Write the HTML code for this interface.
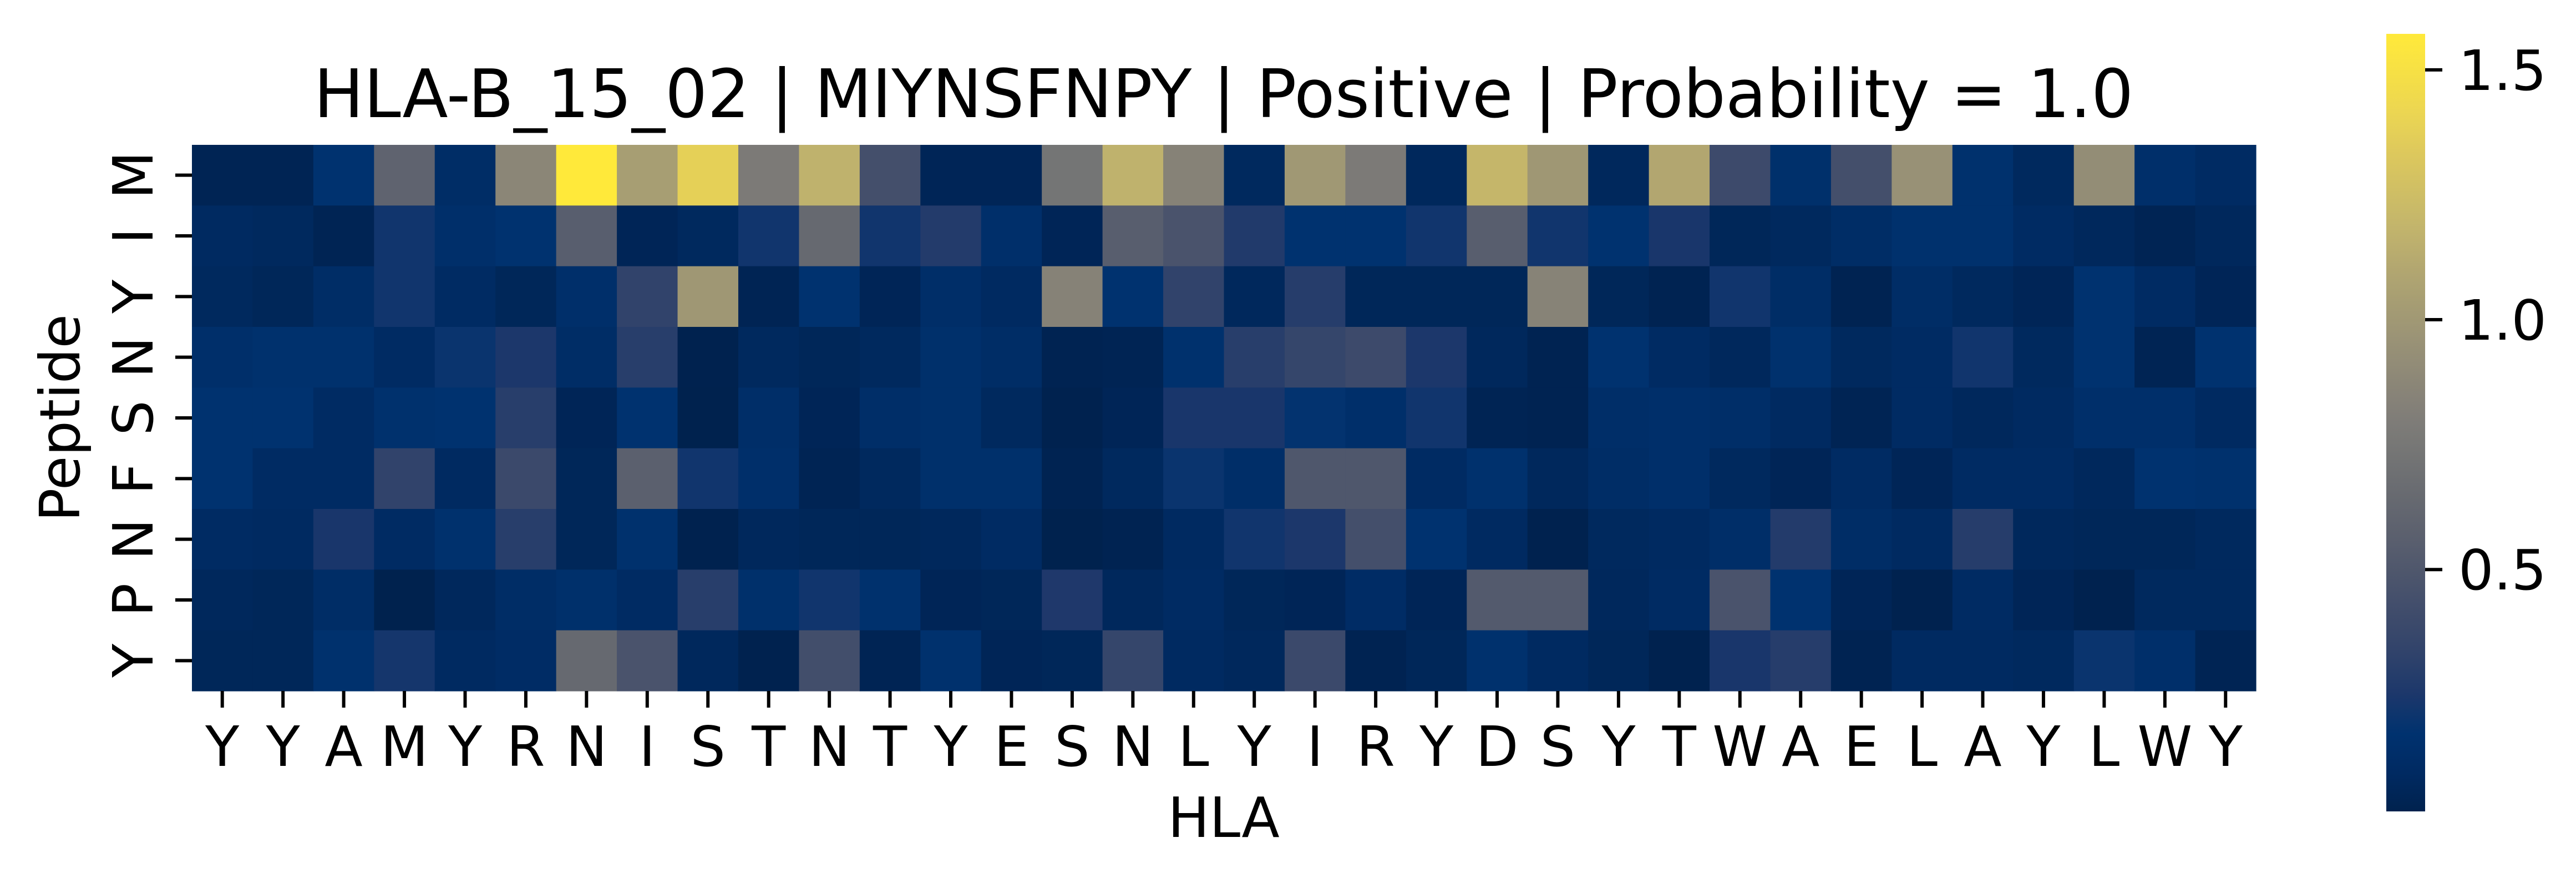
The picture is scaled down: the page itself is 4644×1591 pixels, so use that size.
<!DOCTYPE html>
<html><head><meta charset="utf-8"><style>
html,body{margin:0;padding:0;background:#fff;}
svg{display:block;}
text{font-family:"DejaVu Sans","Liberation Sans",sans-serif;fill:#000;}
</style></head><body>
<svg id="chart" width="4644" height="1591" viewBox="0 0 4644 1591" xmlns="http://www.w3.org/2000/svg">
<text x="2206" y="211" font-size="120" text-anchor="middle">HLA-B_15_02 | MIYNSFNPY | Positive | Probability = 1.0</text>
<g id="cells"></g>
<g id="axes"></g>
<defs><linearGradient id="cbgrad" x1="0" y1="1" x2="0" y2="0"></linearGradient></defs>
<rect x="4302" y="61" width="70" height="1401" fill="url(#cbgrad)"/>
<g id="cbaxis"></g>
<text x="2206" y="1508" font-size="100" text-anchor="middle">HLA</text>
<text x="0" y="0" font-size="100" text-anchor="middle" transform="translate(143,753) rotate(-90)">Peptide</text>
</svg>
<script>
const hlaLabels = ["Y","Y","A","M","Y","R","N","I","S","T","N","T","Y","E","S","N","L","Y","I","R","Y","D","S","Y","T","W","A","E","L","A","Y","L","W","Y"];
const peptideLabels = ["M","I","Y","N","S","F","N","P","Y"];
const rowM = [0.04,0.04,0.17,0.59,0.12,0.87,1.57,1.04,1.38,0.78,1.17,0.44,0.05,0.05,0.73,1.17,0.84,0.08,1.0,0.78,0.07,1.2,0.99,0.07,1.1,0.4,0.15,0.44,0.95,0.16,0.08,0.92,0.14,0.1];
const rowI = [0.09,0.08,0.04,0.22,0.14,0.17,0.55,0.05,0.08,0.22,0.64,0.22,0.28,0.14,0.05,0.55,0.47,0.27,0.17,0.17,0.22,0.55,0.22,0.17,0.24,0.06,0.08,0.12,0.16,0.16,0.1,0.07,0.04,0.07];
const rowY1 = [0.08,0.06,0.12,0.22,0.1,0.06,0.14,0.34,0.99,0.04,0.17,0.05,0.13,0.09,0.84,0.17,0.34,0.07,0.29,0.06,0.06,0.06,0.85,0.06,0.03,0.22,0.12,0.03,0.12,0.08,0.05,0.17,0.1,0.05];
const rowN1 = [0.14,0.16,0.16,0.1,0.2,0.25,0.12,0.3,0.02,0.08,0.06,0.08,0.15,0.12,0.03,0.04,0.16,0.3,0.36,0.4,0.25,0.07,0.03,0.17,0.1,0.07,0.16,0.08,0.1,0.22,0.08,0.17,0.04,0.17];
const rowS = [0.17,0.17,0.1,0.16,0.17,0.3,0.05,0.17,0.01,0.13,0.05,0.13,0.15,0.08,0.02,0.05,0.24,0.24,0.18,0.14,0.22,0.04,0.03,0.13,0.14,0.13,0.09,0.04,0.1,0.07,0.09,0.14,0.14,0.09];
const rowF = [0.17,0.1,0.1,0.34,0.09,0.39,0.06,0.57,0.22,0.14,0.04,0.08,0.15,0.15,0.03,0.08,0.2,0.13,0.5,0.5,0.1,0.16,0.07,0.12,0.14,0.08,0.05,0.1,0.05,0.1,0.1,0.07,0.17,0.16];
const rowN2 = [0.1,0.09,0.24,0.1,0.16,0.3,0.06,0.16,0.02,0.07,0.06,0.06,0.07,0.1,0.01,0.03,0.09,0.22,0.25,0.44,0.17,0.09,0.02,0.08,0.09,0.13,0.28,0.12,0.09,0.29,0.07,0.06,0.06,0.08];
const rowP = [0.07,0.06,0.12,0.01,0.07,0.12,0.15,0.1,0.3,0.15,0.22,0.16,0.05,0.06,0.26,0.07,0.1,0.06,0.05,0.11,0.05,0.52,0.52,0.07,0.1,0.47,0.17,0.05,0.02,0.1,0.05,0.02,0.08,0.08];
const rowY2 = [0.06,0.06,0.16,0.23,0.09,0.11,0.64,0.47,0.07,0.02,0.43,0.04,0.16,0.05,0.06,0.36,0.09,0.07,0.39,0.03,0.06,0.16,0.09,0.06,0.02,0.24,0.29,0.03,0.09,0.09,0.08,0.2,0.14,0.04];
const matrix = [rowM,rowI,rowY1,rowN1,rowS,rowF,rowN2,rowP,rowY2];
const cbTicks = [0.5,1.0,1.5];
const cbTickLabels = ["0.5","1.0","1.5"];
const vmin = 0.016, vmax = 1.572;

const NS = "http://www.w3.org/2000/svg";
const X0 = 346, X1 = 4067, Y0 = 261, Y1 = 1245;
const cw = (X1 - X0) / hlaLabels.length, ch = (Y1 - Y0) / peptideLabels.length;
function xPos(i){ return X0 + i * cw; }
function yPos(j){ return Y0 + j * ch; }
const CB0 = 61, CB1 = 1462;
function cbY(v){ return CB1 - (v - vmin) / (vmax - vmin) * (CB1 - CB0); }

const stops = [[0,"#00224e"],[0.05,"#002a62"],[0.1,"#00326f"],[0.15,"#1c376b"],[0.2,"#2f426b"],[0.25,"#3e4b6b"],[0.3,"#4c556c"],[0.35,"#5a5f6e"],[0.4,"#666970"],[0.45,"#727374"],[0.5,"#7e7c78"],[0.55,"#8b8677"],[0.6,"#989176"],[0.65,"#a59c73"],[0.7,"#b3a770"],[0.75,"#c2b46c"],[0.8,"#d0bf64"],[0.85,"#dec95c"],[0.9,"#ecd652"],[0.95,"#f6e045"],[1,"#ffe93a"]];
function hex(h){ return [1,3,5].map(k=>parseInt(h.substr(k,2),16)); }
function cividis(t){
  t = Math.max(0, Math.min(1, t));
  for (let k = 1; k < stops.length; k++){
    if (t <= stops[k][0]){
      const a = stops[k-1], b = stops[k], f = (t - a[0]) / (b[0] - a[0]);
      const ca = hex(a[1]), cb = hex(b[1]);
      return "rgb(" + ca.map((c,i)=>Math.round(c + (cb[i]-c)*f)).join(",") + ")";
    }
  }
  return stops[stops.length-1][1];
}
function mk(tag, attrs, parent){
  const el = document.createElementNS(NS, tag);
  for (const k in attrs) el.setAttribute(k, attrs[k]);
  parent.appendChild(el);
  return el;
}
const cells = document.getElementById("cells");
matrix.forEach((row, j) => {
  row.forEach((v, i) => {
    const r = mk("rect", {x: xPos(i), y: yPos(j), width: cw + 0.6, height: ch + 0.6, fill: cividis((v - vmin) / (vmax - vmin))}, cells);
    
    
  });
});
const axes = document.getElementById("axes");
hlaLabels.forEach((lab, i) => {
  const cx = xPos(i) + cw / 2;
  const t = mk("line", {x1: cx, x2: cx, y1: Y1, y2: Y1 + 30, stroke: "#000", "stroke-width": 6}, axes);
  
  
  const tx = mk("text", {x: cx, y: 1380, "font-size": 100, "text-anchor": "middle"}, axes);
  tx.textContent = lab;
  
  
});
peptideLabels.forEach((lab, j) => {
  const cy = yPos(j) + ch / 2;
  const t = mk("line", {x1: X0 - 30, x2: X0, y1: cy, y2: cy, stroke: "#000", "stroke-width": 6}, axes);
  
  
  const tx = mk("text", {x: 0, y: 0, "font-size": 100, "text-anchor": "middle", transform: "translate(275," + cy + ") rotate(-90)"}, axes);
  tx.textContent = lab;
  
  
});
const grad = document.getElementById("cbgrad");
for (let k = 0; k <= 40; k++){
  mk("stop", {offset: (k/40), "stop-color": cividis(k/40)}, grad);
}
const cbaxis = document.getElementById("cbaxis");
cbTicks.forEach((v, k) => {
  const y = cbY(v);
  const t = mk("line", {x1: 4372, x2: 4403, y1: y, y2: y, stroke: "#000", "stroke-width": 6}, cbaxis);
  
  
  const tx = mk("text", {x: 4432, y: y + 36, "font-size": 100}, cbaxis);
  tx.textContent = cbTickLabels[k];
  
  
});
</script>
</body></html>
